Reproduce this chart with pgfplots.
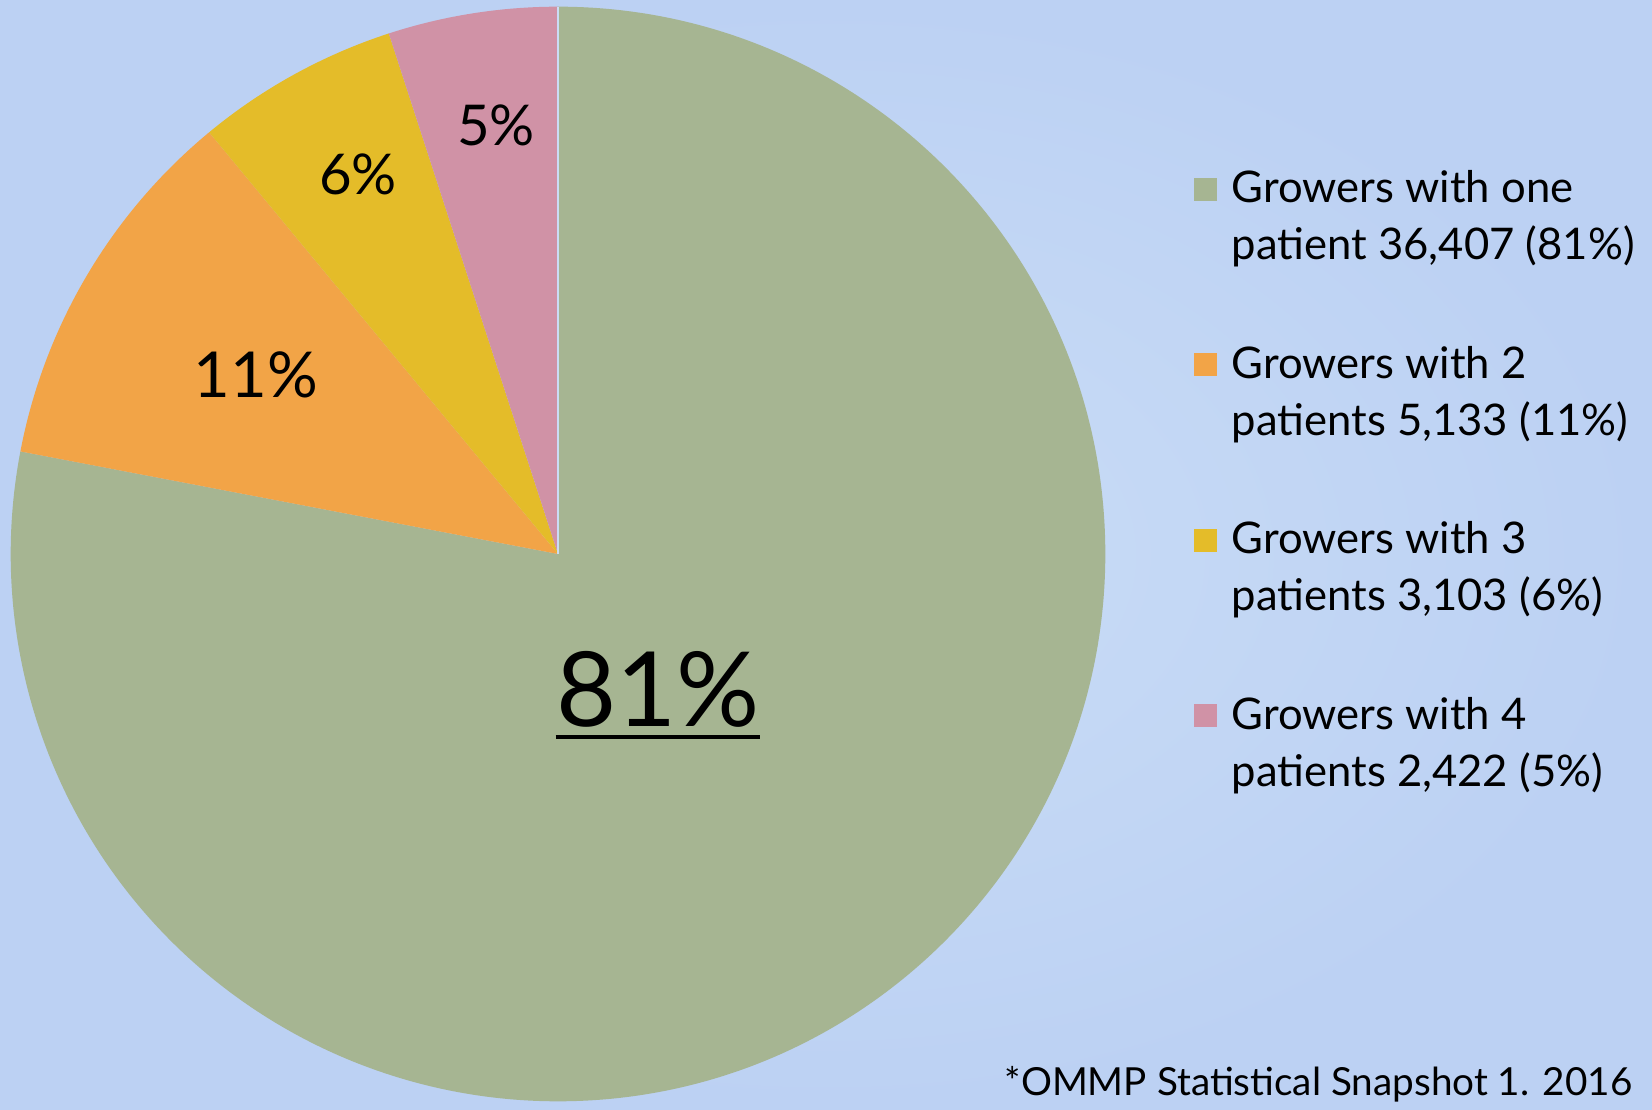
\documentclass[border=0pt]{standalone}
\usepackage{pgfplots}
\pgfplotsset{compat=1.18}
\usepackage{pgfplotstable}
\usepackage{fontspec}
\setmainfont{Lato}
\definecolor{cGreen}{HTML}{A6B592}
\definecolor{cOrange}{HTML}{F2A447}
\definecolor{cYellow}{HTML}{E4BC29}
\definecolor{cPink}{HTML}{D092A6}
\definecolor{bgIn}{HTML}{CADDF6}
\definecolor{bgOut}{HTML}{BCD1F3}
% shares of the circle as drawn (clockwise from 12 o'clock)
\pgfplotstableread{
share
78
11
6
5
}\shares
\pgfplotstablegetelem{0}{share}\of\shares\edef\sA{\pgfplotsretval}
\pgfplotstablegetelem{1}{share}\of\shares\edef\sB{\pgfplotsretval}
\pgfplotstablegetelem{2}{share}\of\shares\edef\sC{\pgfplotsretval}
\pgfplotstablegetelem{3}{share}\of\shares\edef\sD{\pgfplotsretval}
\pgfmathsetmacro{\tot}{\sA+\sB+\sC+\sD}
\pgfmathsetmacro{\aA}{90-(\sA/\tot)*360}
\pgfmathsetmacro{\aB}{\aA-(\sB/\tot)*360}
\pgfmathsetmacro{\aC}{\aB-(\sC/\tot)*360}
\pgfmathsetmacro{\aD}{\aC-(\sD/\tot)*360}
\newcommand\cx{558}
\newcommand\cy{556}
\newcommand\R{5.47cm}
\begin{document}
\begin{tikzpicture}
\begin{axis}[
  x=0.01cm, y=0.01cm,
  xmin=0, xmax=1652, ymin=0, ymax=1110,
  hide axis, clip=false,
  legend cell align=left,
  legend image code/.code={\fill[#1] (0cm,0.17cm) rectangle (0.23cm,0.40cm);},
  legend style={at={(axis cs:1193,940)}, anchor=north west, draw=none, fill=none,
    font=\fontsize{12.4}{16.2}\selectfont, inner sep=0pt,
    nodes={inner sep=0pt, align=left}, row sep=0.81cm, column sep=0.15cm},
]
\shade[inner color=bgIn, outer color=bgOut] (axis cs:0,0) rectangle (axis cs:1652,1110);
\fill[cGreen] (axis cs:\cx,\cy) -- ++(90:\R) arc[start angle=90, end angle=\aA, radius=\R] -- cycle;
\fill[cOrange] (axis cs:\cx,\cy) -- ++(\aA:\R) arc[start angle=\aA, end angle=\aB, radius=\R] -- cycle;
\fill[cYellow] (axis cs:\cx,\cy) -- ++(\aB:\R) arc[start angle=\aB, end angle=\aC, radius=\R] -- cycle;
\fill[cPink] (axis cs:\cx,\cy) -- ++(\aC:\R) arc[start angle=\aC, end angle=\aD, radius=\R] -- cycle;
\draw[bgIn, line width=0.5pt] (axis cs:\cx,\cy) -- ++(90:\R);
\addlegendimage{fill=cGreen, draw=none}
\addlegendentry{Growers with one\\patient 36,407 (81\%)}
\addlegendimage{fill=cOrange, draw=none}
\addlegendentry{Growers with 2\\patients 5,133 (11\%)}
\addlegendimage{fill=cYellow, draw=none}
\addlegendentry{Growers with 3\\patients 3,103 (6\%)}
\addlegendimage{fill=cPink, draw=none}
\addlegendentry{Growers with 4\\patients 2,422 (5\%)}
\node[font=\fontsize{29.5}{36}\selectfont, anchor=base, inner sep=0pt] (p81) at (axis cs:658,383) {81\%};
\draw[line width=1.4pt] ([yshift=-0.1cm]p81.base west) -- ([yshift=-0.1cm]p81.base east);
\node[font=\fontsize{18}{22}\selectfont, anchor=base, inner sep=0pt] at (axis cs:256,712) {11\%};
\node[font=\fontsize{16}{19}\selectfont, anchor=base, inner sep=0pt] at (axis cs:358,915) {6\%};
\node[font=\fontsize{16}{19}\selectfont, anchor=base, inner sep=0pt] at (axis cs:496,964) {5\%};
\node[font=\fontsize{11}{13}\selectfont, anchor=base east, inner sep=0pt] at (axis cs:1633,14) {*OMMP Statistical Snapshot 1. 2016};
\end{axis}
\pgfresetboundingbox
\path[use as bounding box] (current axis.south west) rectangle (current axis.north east);
\end{tikzpicture}
\end{document}
